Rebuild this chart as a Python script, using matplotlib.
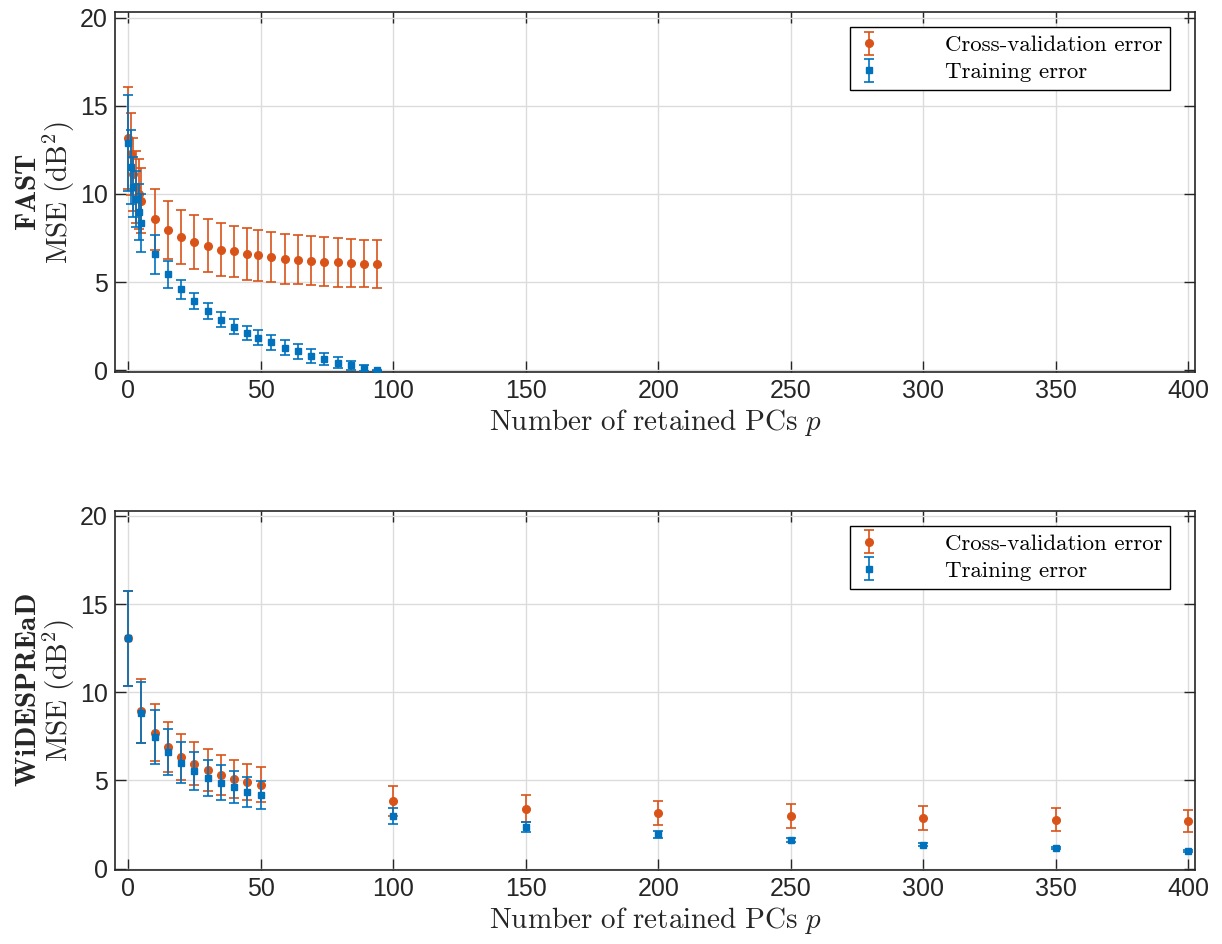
import numpy as np
import matplotlib
matplotlib.use('Agg')
import matplotlib.pyplot as plt

plt.rcParams['mathtext.fontset'] = 'cm'
plt.rcParams['font.family'] = ['Liberation Sans', 'DejaVu Sans']

# FAST dataset
fast_p = [0, 1, 2, 3, 4, 5, 10, 15, 20, 25, 30, 35, 40, 45, 49, 54, 59, 64, 69, 74, 79, 84, 89, 94]
fast_cv = [13.17, 12.26, 11.1, 10.4, 10.0, 9.62, 8.57, 7.96, 7.55, 7.26, 7.06, 6.83, 6.74, 6.60,
           6.51, 6.43, 6.32, 6.26, 6.21, 6.15, 6.11, 6.08, 6.04, 6.02]
fast_cv_std = [2.87, 2.3, 2.07, 2.05, 1.98, 1.85, 1.73, 1.64, 1.54, 1.52, 1.52, 1.49, 1.45, 1.46,
               1.43, 1.42, 1.41, 1.40, 1.39, 1.38, 1.37, 1.35, 1.35, 1.35]
fast_tr = [12.9, 11.55, 10.4, 9.7, 8.96, 8.34, 6.57, 5.43, 4.58, 3.92, 3.36, 2.87, 2.47, 2.11,
           1.85, 1.57, 1.28, 1.06, 0.81, 0.64, 0.43, 0.28, 0.13, 0.0]
fast_tr_std = [2.72, 2.1, 1.7, 1.6, 1.6, 1.66, 1.1, 0.77, 0.56, 0.44, 0.44, 0.44, 0.41, 0.40,
               0.41, 0.41, 0.43, 0.41, 0.41, 0.34, 0.30, 0.25, 0.17, 0.02]

# WiDESPREaD dataset
wide_p = [0, 5, 10, 15, 20, 25, 30, 35, 40, 45, 50, 100, 150, 200, 250, 300, 350, 400]
wide_cv = [13.06, 8.96, 7.71, 6.88, 6.35, 5.94, 5.60, 5.33, 5.09, 4.91, 4.76, 3.84, 3.40, 3.16,
           3.00, 2.87, 2.78, 2.70]
wide_cv_std = [2.7, 1.82, 1.6, 1.41, 1.3, 1.22, 1.17, 1.14, 1.09, 1.04, 1.01, 0.83, 0.77, 0.70,
               0.68, 0.66, 0.65, 0.62]
wide_tr = [13.06, 8.85, 7.49, 6.62, 6.01, 5.54, 5.16, 4.88, 4.61, 4.37, 4.18, 2.98, 2.36, 1.95,
           1.62, 1.36, 1.17, 1.00]
wide_tr_std = [2.7, 1.75, 1.53, 1.32, 1.18, 1.10, 1.02, 0.97, 0.90, 0.85, 0.81, 0.47, 0.30, 0.20,
               0.10, 0.08, 0.07, 0.07]

orange = '#D95319'
blue = '#0072BD'
dark = '#262626'

fig = plt.figure(figsize=(12.22, 9.44), dpi=100)
ax1 = fig.add_axes([0.094, 0.606, 0.884, 0.381])
ax2 = fig.add_axes([0.094, 0.078, 0.884, 0.381])

panels = [
    (ax1, 'FAST', fast_p, fast_cv, fast_cv_std, fast_tr, fast_tr_std),
    (ax2, 'WiDESPREaD', wide_p, wide_cv, wide_cv_std, wide_tr, wide_tr_std),
]

for ax, name, p, cv, cv_s, tr, tr_s in panels:
    ax.errorbar(p, cv, yerr=cv_s, fmt='o', color=orange, markersize=5.5, capsize=3.5,
                elinewidth=1.2, capthick=1.2, label='Cross-validation error', zorder=3)
    ax.errorbar(p, tr, yerr=tr_s, fmt='s', color=blue, markersize=4.5, capsize=3.5,
                elinewidth=1.2, capthick=1.2, label='Training error', zorder=4)
    ax.set_xlim(-5, 402.5)
    ax.set_ylim(-0.1, 20.3)
    ax.set_xticks(np.arange(0, 401, 50))
    ax.set_yticks(np.arange(0, 21, 5))
    ax.grid(True, color='#dcdcdc', linewidth=1.0)
    ax.set_axisbelow(True)
    ax.tick_params(direction='in', length=8, width=1.0, top=True, right=True,
                   labelsize=18, colors=dark, pad=5)
    for s in ax.spines.values():
        s.set_color(dark)
        s.set_linewidth(1.2)
    ax.set_xlabel(r'$\mathrm{Number\ of\ retained\ PCs}\ p$', fontsize=21, color=dark, labelpad=3)
    ax.set_ylabel(r'$\mathbf{' + name + '}$' + '\n' + r'$\mathrm{MSE\ (dB^2)}$',
                  fontsize=21, color=dark, labelpad=2, linespacing=0.95)
    leg = ax.legend(loc='upper right', bbox_to_anchor=(0.977, 0.958), borderaxespad=0,
                    frameon=True, fancybox=False, edgecolor='black', framealpha=1,
                    borderpad=0.35, labelspacing=0.3, handlelength=1.0, handletextpad=2.8,
                    prop={'family': 'cmr10', 'size': 16.5})
    leg.get_frame().set_linewidth(1.0)

fig.savefig('out.png', dpi=100)
